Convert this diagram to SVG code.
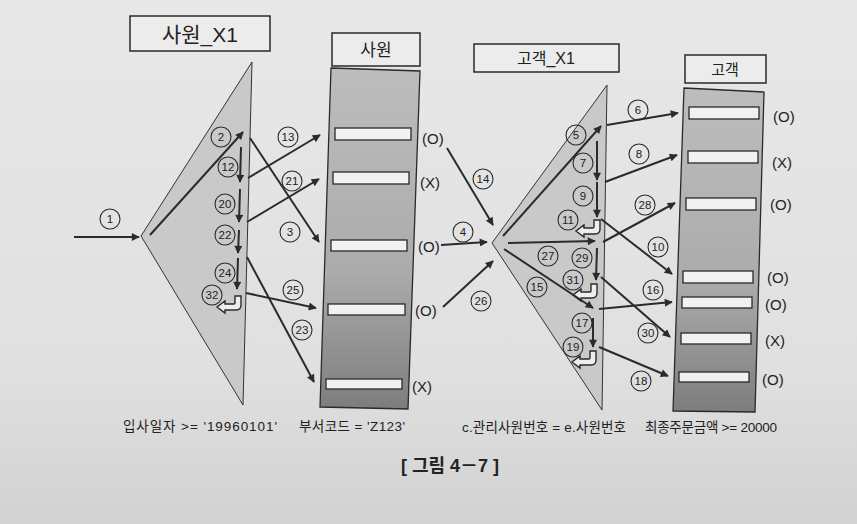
<svg xmlns="http://www.w3.org/2000/svg" width="857" height="524" viewBox="0 0 857 524">
<style>
text{font-family:"Liberation Sans","Noto Sans CJK KR",sans-serif;fill:#222}
.tbox{fill:#ececec;stroke:#2a2a2a;stroke-width:1.5}
.tri{fill:#c9c9c9;stroke:#333;stroke-width:1}
.row{fill:#f1f1f1;stroke:#2a2a2a;stroke-width:1.3}
.ar{fill:none;stroke:#2b2b2b;stroke-width:2;marker-end:url(#ah)}
.num circle{fill:none;stroke:#2a2a2a;stroke-width:1.1}
.num text{font-size:11.5px;text-anchor:middle}
.ox{font-size:15px}
.cond{font-size:13.5px}
.hook{fill:#eeeeee;stroke:#2b2b2b;stroke-width:1.4}
</style>
<defs>
<marker id="ah" viewBox="0 0 10 10" refX="9" refY="5" markerWidth="11" markerHeight="8" markerUnits="userSpaceOnUse" orient="auto">
<path d="M0,0 L10,5 L0,10 z" fill="#2b2b2b"/>
</marker>
<linearGradient id="paper" x1="0" y1="0" x2="0" y2="1">
<stop offset="0" stop-color="#e8e8e8"/>
<stop offset="0.7" stop-color="#e0e0e0"/>
<stop offset="1" stop-color="#d2d2d2"/>
</linearGradient>
<linearGradient id="body" x1="0" y1="0" x2="0" y2="1">
<stop offset="0" stop-color="#bdbdbd"/>
<stop offset="0.6" stop-color="#ababab"/>
<stop offset="1" stop-color="#7d7d7d"/>
</linearGradient>
<path id="hook" d="M0,0 L0,9 Q0,14 -5,14 L-16,14 L-16,17 L-24,11 L-16,5 L-16,8 L-7,8 Q-6,8 -6,7 L-6,0 Z"/>
</defs>
<rect width="857" height="524" fill="url(#paper)"/>

<g id="emp-x1">
<rect class="tbox" x="130" y="16" width="140" height="35"/>
<text x="200" y="42" font-size="21" text-anchor="middle">사원_X1</text>
<polygon class="tri" points="141,236 252,62 243,405"/>
</g>

<g id="emp">
<rect class="tbox" x="332" y="33" width="88" height="33"/>
<text x="376" y="56" font-size="17" text-anchor="middle">사원</text>
<polygon points="331,68 420,71 408,409 320,407" fill="url(#body)" stroke="#2a2a2a" stroke-width="1.3"/>
<rect class="row" x="335" y="128" width="76" height="12"/>
<rect class="row" x="333" y="172" width="76" height="12"/>
<rect class="row" x="331" y="240" width="76" height="11"/>
<rect class="row" x="328" y="304" width="77" height="11"/>
<rect class="row" x="326" y="379" width="76" height="10"/>
<text class="ox" x="422" y="144">(O)</text>
<text class="ox" x="420" y="188">(X)</text>
<text class="ox" x="418" y="252">(O)</text>
<text class="ox" x="415" y="316">(O)</text>
<text class="ox" x="412" y="392">(X)</text>
</g>

<g id="cust-x1">
<rect class="tbox" x="474" y="44" width="145" height="28"/>
<text x="546" y="64" font-size="16" text-anchor="middle">고객_X1</text>
<polygon class="tri" points="492,243 607,85 602,410"/>
</g>

<g id="cust">
<rect class="tbox" x="685" y="55" width="81" height="28"/>
<text x="725" y="75" font-size="15" text-anchor="middle">고객</text>
<polygon points="684,88 764,92 755,412 673,411" fill="url(#body)" stroke="#2a2a2a" stroke-width="1.3"/>
<rect class="row" x="689" y="107" width="70" height="12"/>
<rect class="row" x="688" y="151" width="70" height="12"/>
<rect class="row" x="686" y="198" width="70" height="12"/>
<rect class="row" x="683" y="271" width="70" height="12"/>
<rect class="row" x="682" y="297" width="70" height="11"/>
<rect class="row" x="681" y="333" width="70" height="11"/>
<rect class="row" x="679" y="372" width="70" height="10"/>
<text class="ox" x="773" y="122">(O)</text>
<text class="ox" x="772" y="168">(X)</text>
<text class="ox" x="770" y="210">(O)</text>
<text class="ox" x="767" y="283">(O)</text>
<text class="ox" x="765" y="310">(O)</text>
<text class="ox" x="765" y="346">(X)</text>
<text class="ox" x="762" y="385">(O)</text>
</g>

<g id="connectors">
<line class="ar" x1="74" y1="237" x2="139" y2="237"/>
<line class="ar" x1="150" y1="235" x2="243" y2="132"/>
<line class="ar" x1="241" y1="147" x2="240" y2="182"/>
<line class="ar" x1="240" y1="189" x2="239" y2="222"/>
<line class="ar" x1="239" y1="230" x2="238" y2="253"/>
<line class="ar" x1="238" y1="258" x2="237" y2="289"/>
<use href="#hook" class="hook" x="241" y="296"/>
<line class="ar" x1="248" y1="178" x2="320" y2="135"/>
<line class="ar" x1="247" y1="222" x2="319" y2="179"/>
<line class="ar" x1="250" y1="138" x2="319" y2="242"/>
<line class="ar" x1="246" y1="293" x2="316" y2="308"/>
<line class="ar" x1="247" y1="257" x2="314" y2="382"/>
<line class="ar" x1="447" y1="148" x2="493" y2="225"/>
<line class="ar" x1="441" y1="245" x2="487" y2="242"/>
<line class="ar" x1="443" y1="307" x2="493" y2="261"/>
<line class="ar" x1="503" y1="236" x2="601" y2="126"/>
<line class="ar" x1="597" y1="141" x2="597" y2="180"/>
<line class="ar" x1="597" y1="182" x2="597" y2="217"/>
<use href="#hook" class="hook" x="600" y="220"/>
<line class="ar" x1="508" y1="243" x2="595" y2="241"/>
<line class="ar" x1="597" y1="248" x2="596" y2="280"/>
<use href="#hook" class="hook" x="597" y="284"/>
<line class="ar" x1="504" y1="249" x2="593" y2="308"/>
<line class="ar" x1="593" y1="318" x2="593" y2="347"/>
<use href="#hook" class="hook" x="596" y="351"/>
<line class="ar" x1="607" y1="125" x2="678" y2="113"/>
<line class="ar" x1="605" y1="182" x2="677" y2="155"/>
<line class="ar" x1="603" y1="242" x2="675" y2="203"/>
<line class="ar" x1="601" y1="219" x2="672" y2="274"/>
<line class="ar" x1="599" y1="309" x2="672" y2="302"/>
<line class="ar" x1="601" y1="277" x2="670" y2="337"/>
<line class="ar" x1="599" y1="347" x2="668" y2="376"/>

<g class="num" transform="translate(110,219)"><circle r="10"/><text y="4">1</text></g>
<g class="num" transform="translate(221,137)"><circle r="10"/><text y="4">2</text></g>
<g class="num" transform="translate(228,167)"><circle r="10"/><text y="4">12</text></g>
<g class="num" transform="translate(225,204)"><circle r="10"/><text y="4">20</text></g>
<g class="num" transform="translate(225,235)"><circle r="10"/><text y="4">22</text></g>
<g class="num" transform="translate(225,273)"><circle r="10"/><text y="4">24</text></g>
<g class="num" transform="translate(212,295)"><circle r="10"/><text y="4">32</text></g>
<g class="num" transform="translate(288,137)"><circle r="10"/><text y="4">13</text></g>
<g class="num" transform="translate(292,181)"><circle r="10"/><text y="4">21</text></g>
<g class="num" transform="translate(290,232)"><circle r="10"/><text y="4">3</text></g>
<g class="num" transform="translate(293,290)"><circle r="10"/><text y="4">25</text></g>
<g class="num" transform="translate(302,330)"><circle r="10"/><text y="4">23</text></g>
<g class="num" transform="translate(483,179)"><circle r="10"/><text y="4">14</text></g>
<g class="num" transform="translate(463,232)"><circle r="10"/><text y="4">4</text></g>
<g class="num" transform="translate(481,301)"><circle r="10"/><text y="4">26</text></g>
<g class="num" transform="translate(576,135)"><circle r="10"/><text y="4">5</text></g>
<g class="num" transform="translate(583,163)"><circle r="10"/><text y="4">7</text></g>
<g class="num" transform="translate(583,196)"><circle r="10"/><text y="4">9</text></g>
<g class="num" transform="translate(568,220)"><circle r="10"/><text y="4">11</text></g>
<g class="num" transform="translate(548,256)"><circle r="10"/><text y="4">27</text></g>
<g class="num" transform="translate(582,258)"><circle r="10"/><text y="4">29</text></g>
<g class="num" transform="translate(573,280)"><circle r="10"/><text y="4">31</text></g>
<g class="num" transform="translate(537,287)"><circle r="10"/><text y="4">15</text></g>
<g class="num" transform="translate(582,323)"><circle r="10"/><text y="4">17</text></g>
<g class="num" transform="translate(573,347)"><circle r="10"/><text y="4">19</text></g>
<g class="num" transform="translate(638,110)"><circle r="10"/><text y="4">6</text></g>
<g class="num" transform="translate(639,154)"><circle r="10"/><text y="4">8</text></g>
<g class="num" transform="translate(645,205)"><circle r="10"/><text y="4">28</text></g>
<g class="num" transform="translate(658,247)"><circle r="10"/><text y="4">10</text></g>
<g class="num" transform="translate(653,290)"><circle r="10"/><text y="4">16</text></g>
<g class="num" transform="translate(648,333)"><circle r="10"/><text y="4">30</text></g>
<g class="num" transform="translate(641,381)"><circle r="10"/><text y="4">18</text></g>
</g>

<g id="conditions">
<text class="cond" x="123" y="431" textLength="154" lengthAdjust="spacing">입사일자 &gt;= '19960101'</text>
<text class="cond" x="299" y="431" textLength="106" lengthAdjust="spacing">부서코드 = 'Z123'</text>
<text class="cond" x="462" y="432" textLength="164" lengthAdjust="spacing">c.관리사원번호 = e.사원번호</text>
<text class="cond" x="645" y="432" textLength="132" lengthAdjust="spacing">최종주문금액 &gt;= 20000</text>
<text x="450" y="472" font-size="18" font-weight="bold" text-anchor="middle">[ 그림 4－7 ]</text>
</g>
</svg>
